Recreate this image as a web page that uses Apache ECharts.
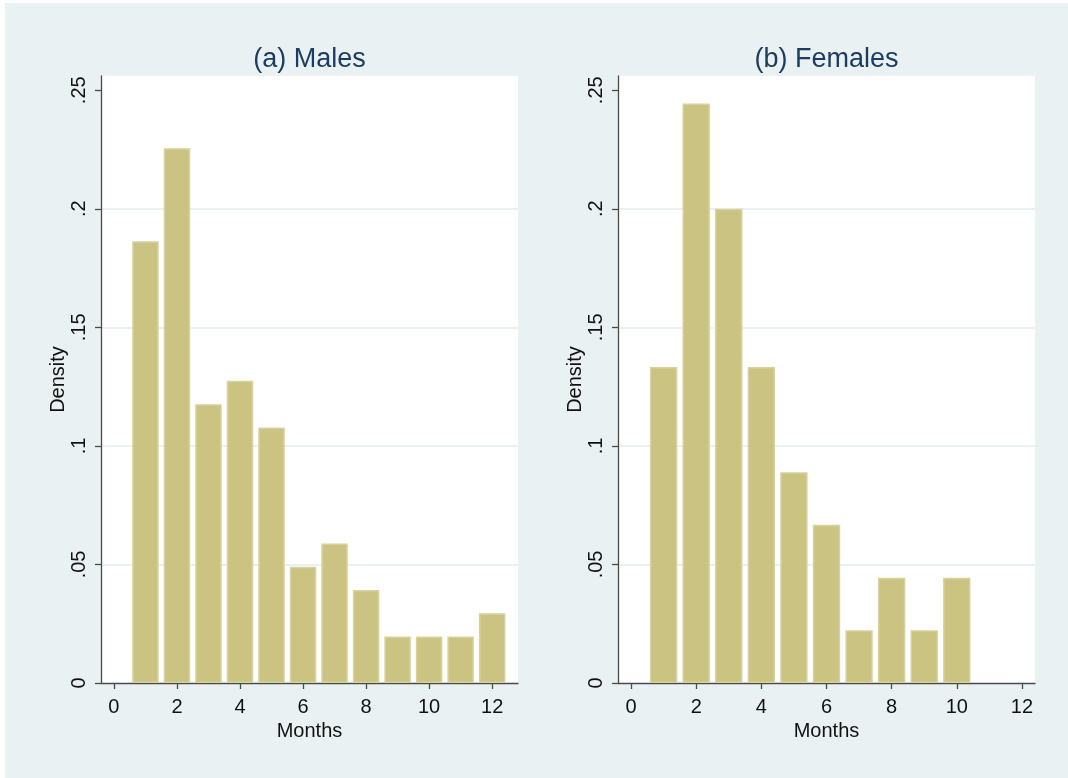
<!DOCTYPE html>
<html>
<head>
<meta charset="utf-8">
<script src="https://cdn.jsdelivr.net/npm/echarts@6/dist/echarts.min.js"></script>
<style>
html,body{margin:0;padding:0;background:#ffffff;}
#chart{position:absolute;left:5px;top:3px;width:1063px;height:775px;}
</style>
</head>
<body>
<div id="chart"></div>
<script>
// ---- data ----
const months = [1, 2, 3, 4, 5, 6, 7, 8, 9, 10, 11, 12];
const malesDensity = [0.1863, 0.2255, 0.1176, 0.1275, 0.1078, 0.0490, 0.0588, 0.0392, 0.0196, 0.0196, 0.0196, 0.0294];
const femalesDensity = [0.1333, 0.2444, 0.2000, 0.1333, 0.0889, 0.0667, 0.0222, 0.0444, 0.0222, 0.0444, 0, 0];
const xTicks = [0, 2, 4, 6, 8, 10, 12];
const yTicks = [0, 0.05, 0.10, 0.15, 0.20, 0.25];
const yTickLabels = ['0', '.05', '.1', '.15', '.2', '.25'];
const panelTitles = ['(a) Males', '(b) Females'];
const xName = 'Months';
const yName = 'Density';

const FONT = "'Liberation Sans', Arial, sans-serif";
const BAR = '#cac381';
const BAR_EDGE = '#d7d19e';
const AXIS = '#4a4a4a';
const GRIDLINE = '#e4ecef';

function pairs(xs, ys) {
  const out = [];
  for (let i = 0; i < xs.length; i++) if (ys[i] > 0) out.push([xs[i], ys[i]]);
  return out;
}

function xAxisDef(gi, min, max) {
  return {
    gridIndex: gi, type: 'value', min: min, max: max,
    name: xName, nameLocation: 'middle', nameGap: 30,
    nameTextStyle: {fontFamily: FONT, fontSize: 20, color: '#111'},
    axisLine: {show: true, onZero: false, lineStyle: {color: AXIS, width: 1.3}},
    axisTick: {show: true, customValues: xTicks, length: 6, inside: false, lineStyle: {color: AXIS, width: 1.3}},
    axisLabel: {customValues: xTicks, margin: 14, fontFamily: FONT, fontSize: 20, color: '#111'},
    splitLine: {show: false}
  };
}
function yAxisDef(gi) {
  return {
    gridIndex: gi, type: 'value', min: 0, max: 0.256, interval: 0.05,
    name: yName, nameLocation: 'middle', nameGap: 33, nameRotate: 90,
    nameTextStyle: {fontFamily: FONT, fontSize: 20, color: '#111'},
    axisLine: {show: true, onZero: false, lineStyle: {color: AXIS, width: 1.3}},
    axisTick: {show: true, customValues: yTicks, length: 6, lineStyle: {color: AXIS, width: 1.3}},
    axisLabel: {
      customValues: yTicks, rotate: 90, margin: 12, fontFamily: FONT, fontSize: 20, color: '#111',
      formatter: function (v) {
        for (let i = 0; i < yTicks.length; i++) if (Math.abs(v - yTicks[i]) < 1e-6) return yTickLabels[i];
        return '';
      }
    },
    splitLine: {show: true, showMinLine: false, showMaxLine: false, lineStyle: {color: GRIDLINE, width: 1.5}}
  };
}
function barSeries(i, data) {
  return {
    type: 'bar', xAxisIndex: i, yAxisIndex: i, data: data,
    barWidth: '84%', silent: true,
    itemStyle: {color: BAR, borderColor: BAR_EDGE, borderWidth: 1.5}
  };
}

const chart = echarts.init(document.getElementById('chart'), null, {renderer: 'canvas'});
chart.setOption({
  animation: false,
  backgroundColor: '#eaf1f3',
  grid: [
    {left: 96, top: 73, width: 417, height: 607, show: true, backgroundColor: '#ffffff', borderWidth: 0, containLabel: false},
    {left: 613, top: 73, width: 417, height: 607, show: true, backgroundColor: '#ffffff', borderWidth: 0, containLabel: false}
  ],
  xAxis: [xAxisDef(0, -0.41, 12.82), xAxisDef(1, -0.4, 12.4)],
  yAxis: [yAxisDef(0), yAxisDef(1)],
  graphic: [
    {type: 'text', x: 304.5, y: 57, silent: true,
     style: {text: panelTitles[0], fontFamily: FONT, fontSize: 27, fill: '#1c3d62', align: 'center', verticalAlign: 'middle'}},
    {type: 'text', x: 821.5, y: 57, silent: true,
     style: {text: panelTitles[1], fontFamily: FONT, fontSize: 27, fill: '#1c3d62', align: 'center', verticalAlign: 'middle'}}
  ],
  series: [
    barSeries(0, pairs(months, malesDensity)),
    barSeries(1, pairs(months, femalesDensity))
  ]
});
</script>
</body>
</html>
